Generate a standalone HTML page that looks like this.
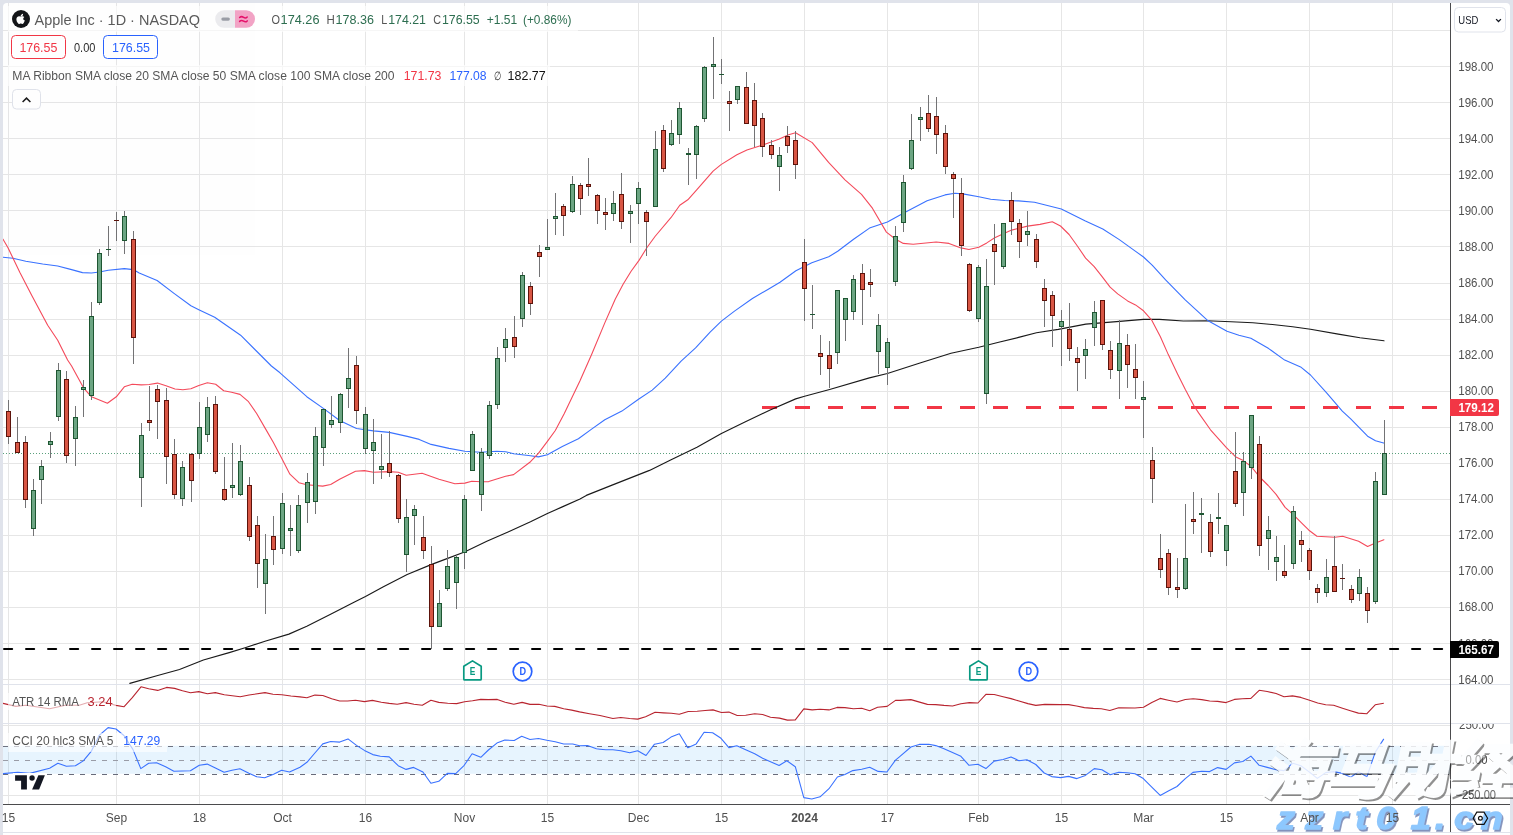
<!DOCTYPE html>
<html><head><meta charset="utf-8"><title>AAPL chart</title>
<style>
html,body{margin:0;padding:0;background:#e0e3eb;}
body{width:1513px;height:835px;overflow:hidden;position:relative;font-family:"Liberation Sans",sans-serif;}
svg text{font-family:"Liberation Sans",sans-serif;}
</style></head><body>
<svg width="1513" height="835" viewBox="0 0 1513 835" style="position:absolute;left:0;top:0;will-change:transform;opacity:0.9999">
<defs><clipPath id="cm"><rect x="3" y="3" width="1447" height="681"/></clipPath><clipPath id="ca"><rect x="3" y="685" width="1447" height="38"/></clipPath><clipPath id="cc"><rect x="3" y="724" width="1447" height="80"/></clipPath><clipPath id="cax"><rect x="1451" y="3" width="59" height="681"/></clipPath><clipPath id="cax2"><rect x="1451" y="724" width="59" height="80"/></clipPath><filter id="sh" x="-10%" y="-10%" width="130%" height="140%"><feGaussianBlur stdDeviation="0.7"/></filter></defs>
<rect x="0" y="0" width="1513" height="835" fill="#e0e3eb"/>
<path d="M3 835V7a4 4 0 0 1 4-4H1506a4 4 0 0 1 4 4V835Z" fill="#fff"/>
<rect x="3" y="832" width="1507" height="1" fill="#e0e3eb"/>
<g fill="#e6e6e6" shape-rendering="crispEdges"><rect x="8" y="3" width="1" height="801"/><rect x="116" y="3" width="1" height="801"/><rect x="199" y="3" width="1" height="801"/><rect x="282" y="3" width="1" height="801"/><rect x="365" y="3" width="1" height="801"/><rect x="464" y="3" width="1" height="801"/><rect x="547" y="3" width="1" height="801"/><rect x="638" y="3" width="1" height="801"/><rect x="721" y="3" width="1" height="801"/><rect x="804" y="3" width="1" height="801"/><rect x="887" y="3" width="1" height="801"/><rect x="978" y="3" width="1" height="801"/><rect x="1061" y="3" width="1" height="801"/><rect x="1143" y="3" width="1" height="801"/><rect x="1226" y="3" width="1" height="801"/><rect x="1309" y="3" width="1" height="801"/><rect x="1392" y="3" width="1" height="801"/><rect x="3" y="30" width="1447" height="1"/><rect x="3" y="66" width="1447" height="1"/><rect x="3" y="102" width="1447" height="1"/><rect x="3" y="138" width="1447" height="1"/><rect x="3" y="174" width="1447" height="1"/><rect x="3" y="210" width="1447" height="1"/><rect x="3" y="246" width="1447" height="1"/><rect x="3" y="283" width="1447" height="1"/><rect x="3" y="319" width="1447" height="1"/><rect x="3" y="355" width="1447" height="1"/><rect x="3" y="391" width="1447" height="1"/><rect x="3" y="427" width="1447" height="1"/><rect x="3" y="463" width="1447" height="1"/><rect x="3" y="499" width="1447" height="1"/><rect x="3" y="535" width="1447" height="1"/><rect x="3" y="571" width="1447" height="1"/><rect x="3" y="607" width="1447" height="1"/><rect x="3" y="643" width="1447" height="1"/><rect x="3" y="679" width="1447" height="1"/><rect x="3" y="725" width="1447" height="1"/><rect x="3" y="795" width="1447" height="1"/></g>
<rect x="3" y="745.8" width="1447" height="28" fill="#2196f3" fill-opacity="0.105"/>
<g stroke-width="1" fill="none" stroke-dasharray="5 6"><path d="M3 746.5H1450" stroke="#6f7280"/><path d="M3 760.5H1450" stroke="#9a9ca6"/><path d="M3 774.5H1450" stroke="#686b7a"/></g>
<path d="M3 453.5H1450" stroke="#5aa07c" stroke-width="1" stroke-dasharray="1 2" fill="none" shape-rendering="crispEdges"/>
<g clip-path="url(#cm)" fill="none"><path d="M762 407.5H1450" stroke="#f23645" stroke-width="3" stroke-dasharray="15 18"/><path d="M4.1 649H1450" stroke="#000" stroke-width="2.2" stroke-dasharray="8 14" stroke-linecap="round"/></g>
<g clip-path="url(#cm)" fill="none" stroke-linejoin="round" stroke-linecap="round">
<path d="M129.8 683.4 L157.7 675.5 L179.5 669.5 L203.4 660.0 L229.2 652.6 L245.1 647.7 L265.0 641.3 L288.9 634.1 L306.8 626.2 L330.6 614.3 L354.5 601.9 L365.5 596.4 L383.4 586.8 L407.2 574.5 L431.1 564.6 L447.0 558.6 L464.5 552.0 L486.8 541.3 L508.6 531.7 L530.5 521.8 L547.4 513.5 L562.3 506.9 L580.0 498.9 L586.3 495.4 L612.7 484.9 L649.5 470.4 L670.6 459.9 L697.0 447.2 L721.4 433.5 L744.4 422.2 L770.7 409.8 L795.7 398.9 L804.6 396.2 L829.6 389.5 L869.4 377.9 L887.4 373.5 L919.2 363.2 L951.0 353.3 L978.8 347.3 L998.7 342.3 L1018.6 337.4 L1036.5 332.8 L1058.3 329.4 L1085.8 324.1 L1119.6 321.4 L1143.5 319.4 L1159.4 319.4 L1183.3 321.0 L1207.1 320.8 L1231.0 321.7 L1252.8 322.7 L1274.7 324.7 L1292.6 326.7 L1310.5 329.3 L1338.3 334.1 L1360.0 337.7 L1384.0 340.8" stroke="#1a1a1a" stroke-width="1.15"/>
<path d="M3.0 257.3 L12.9 258.3 L25.8 261.2 L42.7 264.0 L57.7 266.0 L71.6 269.6 L82.5 272.6 L91.5 273.0 L99.4 272.0 L108.3 270.2 L124.3 268.6 L133.2 269.6 L139.2 273.0 L157.1 280.5 L174.0 293.4 L190.9 305.8 L198.8 309.7 L214.7 317.3 L240.6 335.2 L271.4 366.0 L280.0 372.8 L306.8 396.7 L323.7 408.6 L339.6 420.5 L356.5 428.5 L373.4 430.9 L389.3 432.4 L407.2 436.4 L419.2 439.4 L431.1 444.4 L449.0 448.4 L464.9 451.3 L480.8 452.3 L496.7 451.3 L505.6 451.7 L513.6 453.7 L530.5 455.7 L538.4 456.9 L547.4 454.7 L562.3 446.4 L578.4 438.8 L591.6 429.1 L604.8 419.8 L621.9 411.1 L638.5 399.3 L652.2 390.1 L665.3 378.2 L681.1 361.1 L695.6 347.9 L710.1 332.1 L721.4 321.1 L734.5 311.1 L752.4 298.5 L768.3 289.2 L780.0 282.2 L795.9 270.8 L811.8 262.8 L828.7 256.8 L837.7 251.3 L853.6 239.3 L869.5 228.1 L887.4 222.1 L903.3 213.2 L927.1 200.7 L945.0 194.9 L954.9 193.3 L962.9 193.9 L978.8 196.7 L990.7 199.3 L1004.7 200.5 L1018.6 200.9 L1034.5 202.3 L1046.4 205.2 L1061.3 209.0 L1084.9 220.8 L1102.8 229.0 L1119.3 239.6 L1132.5 249.1 L1143.5 257.0 L1152.4 265.3 L1165.6 279.9 L1185.2 299.9 L1208.1 320.8 L1227.0 331.3 L1238.9 335.3 L1250.9 338.3 L1268.7 348.6 L1284.7 360.1 L1300.6 366.9 L1310.5 375.0 L1326.4 392.7 L1342.3 411.2 L1350.7 418.9 L1367.6 436.2 L1375.5 440.8 L1384.5 443.3" stroke="#3a72ff" stroke-width="1.1"/>
<path d="M3.0 239.2 L8.0 247.7 L19.9 272.6 L31.8 295.4 L47.7 325.2 L57.7 340.2 L67.6 360.0 L71.6 366.0 L83.5 387.8 L91.5 396.8 L107.4 403.3 L116.3 396.8 L124.3 386.8 L132.2 384.3 L141.2 384.9 L149.1 384.5 L157.5 383.1 L166.0 385.8 L175.0 389.0 L182.9 389.8 L190.9 388.8 L198.8 385.4 L207.4 382.7 L215.7 384.3 L223.7 390.8 L231.6 392.2 L240.0 394.4 L248.5 401.7 L256.5 413.3 L265.4 428.6 L273.4 442.5 L281.3 457.4 L289.9 474.2 L298.9 482.7 L306.8 484.7 L322.7 486.1 L330.7 484.5 L339.6 479.2 L355.5 471.2 L364.5 470.6 L373.4 472.2 L389.3 471.6 L398.3 472.2 L406.2 475.2 L422.1 473.2 L439.0 479.2 L454.9 483.7 L464.9 483.1 L471.8 481.2 L480.8 481.7 L488.7 481.6 L505.6 476.2 L513.6 474.6 L530.5 461.7 L538.4 453.3 L547.4 441.4 L555.3 430.5 L564.3 413.6 L580.0 380.8 L591.6 354.5 L604.8 322.9 L615.2 299.2 L623.1 284.3 L631.1 271.3 L639.0 260.4 L647.0 247.5 L655.0 236.5 L670.9 217.7 L679.8 205.3 L687.8 199.8 L696.7 189.8 L713.1 171.2 L721.0 164.6 L736.9 154.7 L746.9 149.9 L762.8 144.9 L778.7 139.3 L788.6 134.8 L795.6 132.8 L812.2 142.6 L828.6 162.4 L845.0 179.8 L861.5 194.3 L872.4 208.2 L886.4 232.1 L895.3 239.0 L903.3 243.4 L913.2 244.2 L936.1 242.0 L949.0 243.4 L960.9 247.9 L968.9 249.5 L978.8 247.3 L986.8 242.9 L994.7 237.8 L1011.6 230.1 L1027.5 226.1 L1040.0 224.4 L1052.3 221.7 L1060.5 226.0 L1069.1 234.5 L1077.0 245.5 L1085.6 258.1 L1094.2 266.7 L1102.1 276.6 L1110.1 287.2 L1117.7 293.9 L1127.6 300.9 L1135.5 304.9 L1143.5 310.8 L1151.5 319.8 L1160.4 336.7 L1168.3 354.6 L1177.3 373.4 L1185.2 389.3 L1194.2 406.2 L1198.6 412.9 L1210.5 429.8 L1226.4 447.7 L1235.4 456.7 L1243.3 460.6 L1251.3 466.6 L1259.2 476.5 L1268.2 485.5 L1276.1 494.4 L1285.1 507.4 L1293.0 514.3 L1301.0 522.3 L1308.9 530.2 L1316.9 536.2 L1334.8 537.2 L1342.7 536.2 L1358.6 541.2 L1367.6 546.5 L1375.5 543.1 L1383.9 539.8" stroke="#f44a5b" stroke-width="1.1"/>
</g>
<g clip-path="url(#ca)" fill="none" stroke-linejoin="round"><path d="M3.0 703.4 L15.9 706.4 L25.8 705.2 L49.6 708.8 L65.4 705.2 L79.3 705.2 L87.2 702.8 L103.1 701.8 L116.0 705.4 L123.9 706.8 L132.3 697.6 L141.0 686.8 L148.7 688.8 L157.7 690.4 L166.6 687.4 L174.6 688.4 L182.5 690.8 L190.5 692.8 L198.8 691.6 L207.4 693.8 L215.3 692.6 L224.3 694.8 L240.2 696.8 L249.1 695.0 L265.0 692.6 L273.0 694.2 L281.9 694.8 L290.9 696.0 L300.0 696.9 L306.9 697.8 L314.9 695.1 L322.8 695.5 L331.7 698.8 L339.7 701.0 L347.6 701.0 L355.5 700.2 L364.4 701.6 L372.4 700.4 L381.3 702.2 L389.2 703.4 L397.2 704.2 L406.1 702.6 L414.0 704.2 L422.3 705.2 L430.9 700.2 L438.8 702.4 L447.7 703.2 L456.7 703.6 L464.6 701.8 L472.5 700.8 L480.8 699.4 L488.4 699.6 L497.3 699.4 L505.2 702.2 L513.8 704.2 L522.1 702.4 L530.0 704.4 L538.9 704.2 L546.9 706.0 L554.8 706.4 L563.7 708.8 L571.7 710.1 L579.6 711.9 L589.5 713.7 L600.0 715.5 L612.9 718.5 L620.8 717.5 L629.7 718.5 L637.7 719.1 L645.6 716.7 L655.1 712.3 L663.5 712.9 L671.4 713.3 L679.3 714.3 L688.2 711.5 L697.2 711.3 L705.1 710.5 L713.0 709.9 L721.4 712.5 L728.9 712.1 L737.2 715.5 L745.7 715.3 L754.7 713.7 L762.6 714.5 L770.5 717.3 L779.5 718.1 L787.4 720.1 L795.3 719.9 L803.8 708.9 L812.2 709.9 L820.1 709.3 L829.0 709.9 L837.0 707.4 L844.9 707.6 L853.4 708.8 L861.7 708.2 L869.7 710.7 L877.6 707.2 L887.1 706.4 L895.5 700.4 L900.0 700.4 L910.9 699.6 L927.4 704.4 L935.7 704.6 L944.0 705.4 L952.5 706.0 L960.9 703.8 L969.4 702.6 L977.9 703.0 L985.9 694.3 L994.2 694.5 L1003.1 696.7 L1011.0 698.6 L1019.0 701.0 L1027.9 703.6 L1035.8 705.4 L1044.8 704.4 L1060.6 704.6 L1068.6 704.6 L1076.5 706.0 L1084.4 707.6 L1093.3 708.4 L1101.3 708.8 L1109.8 710.5 L1118.7 707.8 L1135.0 708.0 L1143.5 707.2 L1151.8 702.4 L1160.2 698.4 L1168.3 700.2 L1177.0 702.0 L1185.3 699.5 L1193.2 698.8 L1201.7 699.6 L1209.7 701.0 L1217.6 701.4 L1226.1 702.6 L1234.4 699.4 L1242.4 698.8 L1250.9 698.4 L1259.2 690.3 L1267.2 691.5 L1276.1 693.5 L1284.0 696.7 L1292.5 695.9 L1300.9 697.4 L1308.8 700.0 L1317.7 703.0 L1325.7 704.8 L1333.6 705.2 L1342.5 708.2 L1350.4 710.7 L1358.4 713.1 L1366.9 713.7 L1375.2 704.8 L1383.8 703.2" stroke="#b8242f" stroke-width="1.1"/></g>
<g clip-path="url(#cc)" fill="none" stroke-linejoin="round"><path d="M3.0 773.6 L17.8 772.2 L29.7 773.4 L49.6 768.2 L57.9 763.3 L66.4 766.3 L75.4 765.7 L83.3 760.9 L91.2 751.4 L99.1 735.5 L108.1 727.6 L116.0 729.0 L123.9 735.5 L132.9 749.4 L140.8 768.6 L148.7 763.3 L156.6 762.7 L165.6 766.7 L173.9 771.2 L190.4 770.8 L199.3 765.3 L207.2 764.1 L224.1 772.2 L232.0 770.2 L239.9 768.8 L248.9 773.2 L256.8 776.8 L264.7 777.8 L273.6 774.2 L281.6 770.2 L289.5 772.0 L300.0 767.2 L306.9 762.3 L314.9 753.0 L322.8 743.9 L330.7 741.5 L339.7 742.1 L348.0 738.9 L356.5 745.4 L364.4 750.4 L372.8 754.6 L380.3 756.3 L389.2 756.9 L398.2 765.7 L406.1 769.4 L413.6 767.4 L422.9 772.0 L430.9 783.3 L438.8 781.3 L447.3 773.4 L455.7 773.6 L464.2 765.3 L472.1 753.8 L480.8 757.3 L488.4 750.0 L496.9 743.1 L504.8 740.1 L514.2 740.5 L521.7 736.3 L530.0 739.5 L538.5 738.5 L546.9 740.3 L555.2 741.7 L563.7 744.0 L572.7 744.0 L579.6 745.8 L587.5 745.6 L596.4 748.8 L600.0 749.2 L605.9 749.8 L612.9 749.8 L620.8 750.8 L629.7 752.8 L637.7 750.8 L646.0 755.5 L654.5 744.2 L663.1 742.5 L671.0 737.1 L679.3 733.7 L687.8 747.8 L696.2 743.9 L704.1 732.2 L712.6 732.7 L721.0 738.3 L728.9 747.6 L736.8 745.8 L745.7 749.8 L754.7 753.8 L762.6 758.3 L770.5 761.7 L779.1 765.5 L786.8 760.7 L795.3 766.7 L803.8 797.6 L811.8 799.0 L820.1 796.8 L829.0 788.7 L837.4 777.0 L844.9 774.4 L852.8 770.6 L861.7 769.2 L869.7 767.2 L878.2 771.4 L886.9 772.0 L895.5 760.1 L900.0 756.3 L910.9 747.0 L919.2 744.4 L928.8 744.2 L935.7 745.6 L944.0 748.8 L952.5 752.6 L960.9 756.3 L969.0 765.3 L977.9 764.3 L985.9 768.6 L994.2 761.1 L1003.1 759.5 L1011.0 756.9 L1019.0 760.7 L1026.9 759.7 L1035.8 764.5 L1044.2 773.0 L1051.7 776.6 L1060.6 777.6 L1068.6 776.4 L1076.9 778.6 L1085.4 775.4 L1094.3 768.6 L1101.9 769.8 L1110.2 774.8 L1118.7 772.2 L1127.0 772.8 L1135.0 773.8 L1143.3 778.6 L1151.8 787.1 L1160.2 795.4 L1168.3 791.0 L1177.0 786.5 L1185.3 778.6 L1193.0 772.4 L1201.7 771.2 L1209.7 771.6 L1217.6 767.6 L1226.1 769.4 L1234.4 762.9 L1242.8 761.5 L1250.9 756.1 L1259.2 765.3 L1267.2 767.4 L1276.1 769.8 L1284.0 770.6 L1292.9 763.3 L1300.9 765.7 L1308.8 771.6 L1317.3 778.4 L1325.7 772.6 L1333.6 771.6 L1342.5 773.4 L1350.8 777.2 L1358.4 771.8 L1366.9 776.8 L1375.2 752.4 L1383.8 738.9" stroke="#3a72ff" stroke-width="1.1"/></g>
<g clip-path="url(#cm)" shape-rendering="crispEdges"><rect x="8" y="400" width="1" height="44" fill="#737375"/><rect x="6" y="411" width="5" height="26" fill="#5c130b"/><rect x="7" y="412" width="3" height="24" fill="#d85644"/><rect x="17" y="417" width="1" height="36" fill="#737375"/><rect x="15" y="442" width="5" height="11" fill="#5c130b"/><rect x="16" y="443" width="3" height="9" fill="#d85644"/><rect x="25" y="436" width="1" height="72" fill="#737375"/><rect x="23" y="442" width="5" height="58" fill="#5c130b"/><rect x="24" y="443" width="3" height="56" fill="#d85644"/><rect x="33" y="479" width="1" height="57" fill="#737375"/><rect x="31" y="490" width="5" height="39" fill="#1e5632"/><rect x="32" y="491" width="3" height="37" fill="#6ca583"/><rect x="41" y="460" width="1" height="44" fill="#737375"/><rect x="39" y="466" width="5" height="14" fill="#1e5632"/><rect x="40" y="467" width="3" height="12" fill="#6ca583"/><rect x="50" y="432" width="1" height="26" fill="#737375"/><rect x="48" y="441" width="5" height="4" fill="#1e5632"/><rect x="49" y="442" width="3" height="2" fill="#6ca583"/><rect x="58" y="363" width="1" height="58" fill="#737375"/><rect x="56" y="370" width="5" height="47" fill="#1e5632"/><rect x="57" y="371" width="3" height="45" fill="#6ca583"/><rect x="66" y="371" width="1" height="92" fill="#737375"/><rect x="64" y="379" width="5" height="77" fill="#5c130b"/><rect x="65" y="380" width="3" height="75" fill="#d85644"/><rect x="75" y="406" width="1" height="60" fill="#737375"/><rect x="73" y="417" width="5" height="22" fill="#1e5632"/><rect x="74" y="418" width="3" height="20" fill="#6ca583"/><rect x="83" y="380" width="1" height="37" fill="#737375"/><rect x="81" y="387" width="5" height="3" fill="#1e5632"/><rect x="82" y="388" width="3" height="1" fill="#6ca583"/><rect x="91" y="302" width="1" height="98" fill="#737375"/><rect x="89" y="316" width="5" height="80" fill="#1e5632"/><rect x="90" y="317" width="3" height="78" fill="#6ca583"/><rect x="99" y="249" width="1" height="56" fill="#737375"/><rect x="97" y="253" width="5" height="50" fill="#1e5632"/><rect x="98" y="254" width="3" height="48" fill="#6ca583"/><rect x="108" y="226" width="1" height="30" fill="#737375"/><rect x="106" y="249" width="5" height="1" fill="#1e5632"/><rect x="116" y="212" width="1" height="29" fill="#737375"/><rect x="114" y="220" width="5" height="1" fill="#5c130b"/><rect x="124" y="211" width="1" height="43" fill="#737375"/><rect x="122" y="216" width="5" height="25" fill="#1e5632"/><rect x="123" y="217" width="3" height="23" fill="#6ca583"/><rect x="133" y="231" width="1" height="133" fill="#737375"/><rect x="131" y="239" width="5" height="99" fill="#5c130b"/><rect x="132" y="240" width="3" height="97" fill="#d85644"/><rect x="141" y="423" width="1" height="84" fill="#737375"/><rect x="139" y="435" width="5" height="43" fill="#1e5632"/><rect x="140" y="436" width="3" height="41" fill="#6ca583"/><rect x="149" y="386" width="1" height="45" fill="#737375"/><rect x="147" y="420" width="5" height="3" fill="#5c130b"/><rect x="148" y="421" width="3" height="1" fill="#d85644"/><rect x="157" y="385" width="1" height="54" fill="#737375"/><rect x="155" y="389" width="5" height="13" fill="#5c130b"/><rect x="156" y="390" width="3" height="11" fill="#d85644"/><rect x="166" y="388" width="1" height="96" fill="#737375"/><rect x="164" y="400" width="5" height="57" fill="#5c130b"/><rect x="165" y="401" width="3" height="55" fill="#d85644"/><rect x="174" y="439" width="1" height="60" fill="#737375"/><rect x="172" y="454" width="5" height="41" fill="#5c130b"/><rect x="173" y="455" width="3" height="39" fill="#d85644"/><rect x="182" y="461" width="1" height="45" fill="#737375"/><rect x="180" y="467" width="5" height="32" fill="#1e5632"/><rect x="181" y="468" width="3" height="30" fill="#6ca583"/><rect x="191" y="453" width="1" height="49" fill="#737375"/><rect x="189" y="454" width="5" height="27" fill="#5c130b"/><rect x="190" y="455" width="3" height="25" fill="#d85644"/><rect x="199" y="402" width="1" height="57" fill="#737375"/><rect x="197" y="427" width="5" height="27" fill="#1e5632"/><rect x="198" y="428" width="3" height="25" fill="#6ca583"/><rect x="207" y="397" width="1" height="45" fill="#737375"/><rect x="205" y="407" width="5" height="28" fill="#1e5632"/><rect x="206" y="408" width="3" height="26" fill="#6ca583"/><rect x="215" y="396" width="1" height="78" fill="#737375"/><rect x="213" y="404" width="5" height="68" fill="#5c130b"/><rect x="214" y="405" width="3" height="66" fill="#d85644"/><rect x="224" y="457" width="1" height="44" fill="#737375"/><rect x="222" y="489" width="5" height="11" fill="#5c130b"/><rect x="223" y="490" width="3" height="9" fill="#d85644"/><rect x="232" y="443" width="1" height="55" fill="#737375"/><rect x="230" y="485" width="5" height="3" fill="#1e5632"/><rect x="231" y="486" width="3" height="1" fill="#6ca583"/><rect x="240" y="445" width="1" height="51" fill="#737375"/><rect x="238" y="461" width="5" height="34" fill="#1e5632"/><rect x="239" y="462" width="3" height="32" fill="#6ca583"/><rect x="249" y="477" width="1" height="64" fill="#737375"/><rect x="247" y="485" width="5" height="52" fill="#5c130b"/><rect x="248" y="486" width="3" height="50" fill="#d85644"/><rect x="257" y="516" width="1" height="72" fill="#737375"/><rect x="255" y="525" width="5" height="39" fill="#5c130b"/><rect x="256" y="526" width="3" height="37" fill="#d85644"/><rect x="265" y="534" width="1" height="80" fill="#737375"/><rect x="263" y="559" width="5" height="25" fill="#1e5632"/><rect x="264" y="560" width="3" height="23" fill="#6ca583"/><rect x="273" y="516" width="1" height="49" fill="#737375"/><rect x="271" y="536" width="5" height="14" fill="#5c130b"/><rect x="272" y="537" width="3" height="12" fill="#d85644"/><rect x="282" y="493" width="1" height="61" fill="#737375"/><rect x="280" y="503" width="5" height="46" fill="#1e5632"/><rect x="281" y="504" width="3" height="44" fill="#6ca583"/><rect x="290" y="505" width="1" height="51" fill="#737375"/><rect x="288" y="528" width="5" height="3" fill="#1e5632"/><rect x="289" y="529" width="3" height="1" fill="#6ca583"/><rect x="298" y="495" width="1" height="58" fill="#737375"/><rect x="296" y="505" width="5" height="46" fill="#1e5632"/><rect x="297" y="506" width="3" height="44" fill="#6ca583"/><rect x="307" y="473" width="1" height="50" fill="#737375"/><rect x="305" y="482" width="5" height="21" fill="#1e5632"/><rect x="306" y="483" width="3" height="19" fill="#6ca583"/><rect x="315" y="427" width="1" height="87" fill="#737375"/><rect x="313" y="436" width="5" height="66" fill="#1e5632"/><rect x="314" y="437" width="3" height="64" fill="#6ca583"/><rect x="323" y="409" width="1" height="57" fill="#737375"/><rect x="321" y="409" width="5" height="39" fill="#1e5632"/><rect x="322" y="410" width="3" height="37" fill="#6ca583"/><rect x="331" y="396" width="1" height="32" fill="#737375"/><rect x="329" y="420" width="5" height="5" fill="#1e5632"/><rect x="330" y="421" width="3" height="3" fill="#6ca583"/><rect x="340" y="393" width="1" height="40" fill="#737375"/><rect x="338" y="394" width="5" height="29" fill="#1e5632"/><rect x="339" y="395" width="3" height="27" fill="#6ca583"/><rect x="348" y="348" width="1" height="60" fill="#737375"/><rect x="346" y="378" width="5" height="11" fill="#1e5632"/><rect x="347" y="379" width="3" height="9" fill="#6ca583"/><rect x="356" y="356" width="1" height="68" fill="#737375"/><rect x="354" y="365" width="5" height="46" fill="#5c130b"/><rect x="355" y="366" width="3" height="44" fill="#d85644"/><rect x="365" y="407" width="1" height="47" fill="#737375"/><rect x="363" y="414" width="5" height="35" fill="#1e5632"/><rect x="364" y="415" width="3" height="33" fill="#6ca583"/><rect x="373" y="419" width="1" height="65" fill="#737375"/><rect x="371" y="442" width="5" height="9" fill="#1e5632"/><rect x="372" y="443" width="3" height="7" fill="#6ca583"/><rect x="381" y="434" width="1" height="45" fill="#737375"/><rect x="379" y="466" width="5" height="4" fill="#1e5632"/><rect x="380" y="467" width="3" height="2" fill="#6ca583"/><rect x="389" y="431" width="1" height="46" fill="#737375"/><rect x="387" y="463" width="5" height="10" fill="#5c130b"/><rect x="388" y="464" width="3" height="8" fill="#d85644"/><rect x="398" y="474" width="1" height="49" fill="#737375"/><rect x="396" y="475" width="5" height="44" fill="#5c130b"/><rect x="397" y="476" width="3" height="42" fill="#d85644"/><rect x="406" y="499" width="1" height="73" fill="#737375"/><rect x="404" y="517" width="5" height="38" fill="#1e5632"/><rect x="405" y="518" width="3" height="36" fill="#6ca583"/><rect x="414" y="505" width="1" height="40" fill="#737375"/><rect x="412" y="509" width="5" height="7" fill="#1e5632"/><rect x="413" y="510" width="3" height="5" fill="#6ca583"/><rect x="423" y="516" width="1" height="43" fill="#737375"/><rect x="421" y="537" width="5" height="14" fill="#5c130b"/><rect x="422" y="538" width="3" height="12" fill="#d85644"/><rect x="431" y="546" width="1" height="103" fill="#737375"/><rect x="429" y="564" width="5" height="63" fill="#5c130b"/><rect x="430" y="565" width="3" height="61" fill="#d85644"/><rect x="439" y="590" width="1" height="37" fill="#737375"/><rect x="437" y="603" width="5" height="24" fill="#1e5632"/><rect x="438" y="604" width="3" height="22" fill="#6ca583"/><rect x="447" y="550" width="1" height="41" fill="#737375"/><rect x="445" y="566" width="5" height="23" fill="#1e5632"/><rect x="446" y="567" width="3" height="21" fill="#6ca583"/><rect x="456" y="555" width="1" height="54" fill="#737375"/><rect x="454" y="557" width="5" height="26" fill="#1e5632"/><rect x="455" y="558" width="3" height="24" fill="#6ca583"/><rect x="464" y="495" width="1" height="74" fill="#737375"/><rect x="462" y="499" width="5" height="54" fill="#1e5632"/><rect x="463" y="500" width="3" height="52" fill="#6ca583"/><rect x="472" y="431" width="1" height="40" fill="#737375"/><rect x="470" y="434" width="5" height="37" fill="#1e5632"/><rect x="471" y="435" width="3" height="35" fill="#6ca583"/><rect x="481" y="448" width="1" height="63" fill="#737375"/><rect x="479" y="452" width="5" height="43" fill="#1e5632"/><rect x="480" y="453" width="3" height="41" fill="#6ca583"/><rect x="489" y="401" width="1" height="58" fill="#737375"/><rect x="487" y="405" width="5" height="51" fill="#1e5632"/><rect x="488" y="406" width="3" height="49" fill="#6ca583"/><rect x="497" y="347" width="1" height="62" fill="#737375"/><rect x="495" y="358" width="5" height="47" fill="#1e5632"/><rect x="496" y="359" width="3" height="45" fill="#6ca583"/><rect x="505" y="328" width="1" height="34" fill="#737375"/><rect x="503" y="339" width="5" height="9" fill="#1e5632"/><rect x="504" y="340" width="3" height="7" fill="#6ca583"/><rect x="514" y="316" width="1" height="42" fill="#737375"/><rect x="512" y="337" width="5" height="10" fill="#5c130b"/><rect x="513" y="338" width="3" height="8" fill="#d85644"/><rect x="522" y="272" width="1" height="55" fill="#737375"/><rect x="520" y="275" width="5" height="44" fill="#1e5632"/><rect x="521" y="276" width="3" height="42" fill="#6ca583"/><rect x="530" y="282" width="1" height="33" fill="#737375"/><rect x="528" y="286" width="5" height="18" fill="#5c130b"/><rect x="529" y="287" width="3" height="16" fill="#d85644"/><rect x="539" y="245" width="1" height="32" fill="#737375"/><rect x="537" y="252" width="5" height="5" fill="#5c130b"/><rect x="538" y="253" width="3" height="3" fill="#d85644"/><rect x="547" y="219" width="1" height="31" fill="#737375"/><rect x="545" y="247" width="5" height="3" fill="#1e5632"/><rect x="546" y="248" width="3" height="1" fill="#6ca583"/><rect x="555" y="193" width="1" height="42" fill="#737375"/><rect x="553" y="216" width="5" height="3" fill="#1e5632"/><rect x="554" y="217" width="3" height="1" fill="#6ca583"/><rect x="563" y="204" width="1" height="32" fill="#737375"/><rect x="561" y="206" width="5" height="10" fill="#5c130b"/><rect x="562" y="207" width="3" height="8" fill="#d85644"/><rect x="572" y="176" width="1" height="37" fill="#737375"/><rect x="570" y="184" width="5" height="28" fill="#1e5632"/><rect x="571" y="185" width="3" height="26" fill="#6ca583"/><rect x="580" y="183" width="1" height="32" fill="#737375"/><rect x="578" y="185" width="5" height="14" fill="#5c130b"/><rect x="579" y="186" width="3" height="12" fill="#d85644"/><rect x="588" y="158" width="1" height="38" fill="#737375"/><rect x="586" y="184" width="5" height="3" fill="#5c130b"/><rect x="587" y="185" width="3" height="1" fill="#d85644"/><rect x="597" y="194" width="1" height="30" fill="#737375"/><rect x="595" y="195" width="5" height="16" fill="#5c130b"/><rect x="596" y="196" width="3" height="14" fill="#d85644"/><rect x="605" y="198" width="1" height="32" fill="#737375"/><rect x="603" y="212" width="5" height="3" fill="#5c130b"/><rect x="604" y="213" width="3" height="1" fill="#d85644"/><rect x="613" y="191" width="1" height="30" fill="#737375"/><rect x="611" y="203" width="5" height="11" fill="#1e5632"/><rect x="612" y="204" width="3" height="9" fill="#6ca583"/><rect x="621" y="173" width="1" height="56" fill="#737375"/><rect x="619" y="194" width="5" height="28" fill="#5c130b"/><rect x="620" y="195" width="3" height="26" fill="#d85644"/><rect x="630" y="205" width="1" height="38" fill="#737375"/><rect x="628" y="211" width="5" height="3" fill="#1e5632"/><rect x="629" y="212" width="3" height="1" fill="#6ca583"/><rect x="638" y="182" width="1" height="42" fill="#737375"/><rect x="636" y="188" width="5" height="16" fill="#1e5632"/><rect x="637" y="189" width="3" height="14" fill="#6ca583"/><rect x="646" y="210" width="1" height="46" fill="#737375"/><rect x="644" y="212" width="5" height="10" fill="#5c130b"/><rect x="645" y="213" width="3" height="8" fill="#d85644"/><rect x="655" y="131" width="1" height="76" fill="#737375"/><rect x="653" y="149" width="5" height="58" fill="#1e5632"/><rect x="654" y="150" width="3" height="56" fill="#6ca583"/><rect x="663" y="125" width="1" height="47" fill="#737375"/><rect x="661" y="130" width="5" height="39" fill="#5c130b"/><rect x="662" y="131" width="3" height="37" fill="#d85644"/><rect x="671" y="120" width="1" height="26" fill="#737375"/><rect x="669" y="133" width="5" height="12" fill="#1e5632"/><rect x="670" y="134" width="3" height="10" fill="#6ca583"/><rect x="679" y="102" width="1" height="42" fill="#737375"/><rect x="677" y="108" width="5" height="27" fill="#1e5632"/><rect x="678" y="109" width="3" height="25" fill="#6ca583"/><rect x="688" y="148" width="1" height="37" fill="#737375"/><rect x="686" y="153" width="5" height="2" fill="#1e5632"/><rect x="696" y="125" width="1" height="54" fill="#737375"/><rect x="694" y="126" width="5" height="29" fill="#1e5632"/><rect x="695" y="127" width="3" height="27" fill="#6ca583"/><rect x="704" y="66" width="1" height="56" fill="#737375"/><rect x="702" y="67" width="5" height="52" fill="#1e5632"/><rect x="703" y="68" width="3" height="50" fill="#6ca583"/><rect x="713" y="37" width="1" height="62" fill="#737375"/><rect x="711" y="64" width="5" height="3" fill="#1e5632"/><rect x="712" y="65" width="3" height="1" fill="#6ca583"/><rect x="721" y="59" width="1" height="25" fill="#737375"/><rect x="719" y="74" width="5" height="1" fill="#1e5632"/><rect x="729" y="91" width="1" height="40" fill="#737375"/><rect x="727" y="101" width="5" height="3" fill="#5c130b"/><rect x="728" y="102" width="3" height="1" fill="#d85644"/><rect x="737" y="86" width="1" height="18" fill="#737375"/><rect x="735" y="86" width="5" height="14" fill="#1e5632"/><rect x="736" y="87" width="3" height="12" fill="#6ca583"/><rect x="746" y="72" width="1" height="52" fill="#737375"/><rect x="744" y="87" width="5" height="37" fill="#5c130b"/><rect x="745" y="88" width="3" height="35" fill="#d85644"/><rect x="754" y="83" width="1" height="64" fill="#737375"/><rect x="752" y="100" width="5" height="26" fill="#5c130b"/><rect x="753" y="101" width="3" height="24" fill="#d85644"/><rect x="762" y="113" width="1" height="44" fill="#737375"/><rect x="760" y="118" width="5" height="29" fill="#5c130b"/><rect x="761" y="119" width="3" height="27" fill="#d85644"/><rect x="771" y="140" width="1" height="19" fill="#737375"/><rect x="769" y="145" width="5" height="10" fill="#5c130b"/><rect x="770" y="146" width="3" height="8" fill="#d85644"/><rect x="779" y="147" width="1" height="44" fill="#737375"/><rect x="777" y="155" width="5" height="12" fill="#1e5632"/><rect x="778" y="156" width="3" height="10" fill="#6ca583"/><rect x="787" y="126" width="1" height="27" fill="#737375"/><rect x="785" y="136" width="5" height="10" fill="#5c130b"/><rect x="786" y="137" width="3" height="8" fill="#d85644"/><rect x="795" y="131" width="1" height="48" fill="#737375"/><rect x="793" y="140" width="5" height="25" fill="#5c130b"/><rect x="794" y="141" width="3" height="23" fill="#d85644"/><rect x="804" y="239" width="1" height="82" fill="#737375"/><rect x="802" y="262" width="5" height="27" fill="#5c130b"/><rect x="803" y="263" width="3" height="25" fill="#d85644"/><rect x="812" y="285" width="1" height="44" fill="#737375"/><rect x="810" y="314" width="5" height="1" fill="#1e5632"/><rect x="820" y="335" width="1" height="40" fill="#737375"/><rect x="818" y="353" width="5" height="4" fill="#5c130b"/><rect x="819" y="354" width="3" height="2" fill="#d85644"/><rect x="829" y="341" width="1" height="47" fill="#737375"/><rect x="827" y="355" width="5" height="14" fill="#5c130b"/><rect x="828" y="356" width="3" height="12" fill="#d85644"/><rect x="837" y="290" width="1" height="74" fill="#737375"/><rect x="835" y="290" width="5" height="63" fill="#1e5632"/><rect x="836" y="291" width="3" height="61" fill="#6ca583"/><rect x="845" y="298" width="1" height="43" fill="#737375"/><rect x="843" y="298" width="5" height="22" fill="#1e5632"/><rect x="844" y="299" width="3" height="20" fill="#6ca583"/><rect x="853" y="275" width="1" height="45" fill="#737375"/><rect x="851" y="279" width="5" height="33" fill="#1e5632"/><rect x="852" y="280" width="3" height="31" fill="#6ca583"/><rect x="862" y="264" width="1" height="61" fill="#737375"/><rect x="860" y="273" width="5" height="17" fill="#5c130b"/><rect x="861" y="274" width="3" height="15" fill="#d85644"/><rect x="870" y="269" width="1" height="28" fill="#737375"/><rect x="868" y="282" width="5" height="3" fill="#5c130b"/><rect x="869" y="283" width="3" height="1" fill="#d85644"/><rect x="878" y="314" width="1" height="60" fill="#737375"/><rect x="876" y="325" width="5" height="27" fill="#1e5632"/><rect x="877" y="326" width="3" height="25" fill="#6ca583"/><rect x="887" y="338" width="1" height="47" fill="#737375"/><rect x="885" y="342" width="5" height="26" fill="#1e5632"/><rect x="886" y="343" width="3" height="24" fill="#6ca583"/><rect x="895" y="226" width="1" height="60" fill="#737375"/><rect x="893" y="236" width="5" height="46" fill="#1e5632"/><rect x="894" y="237" width="3" height="44" fill="#6ca583"/><rect x="903" y="175" width="1" height="57" fill="#737375"/><rect x="901" y="182" width="5" height="41" fill="#1e5632"/><rect x="902" y="183" width="3" height="39" fill="#6ca583"/><rect x="911" y="114" width="1" height="56" fill="#737375"/><rect x="909" y="140" width="5" height="29" fill="#1e5632"/><rect x="910" y="141" width="3" height="27" fill="#6ca583"/><rect x="920" y="107" width="1" height="34" fill="#737375"/><rect x="918" y="117" width="5" height="3" fill="#1e5632"/><rect x="919" y="118" width="3" height="1" fill="#6ca583"/><rect x="928" y="95" width="1" height="37" fill="#737375"/><rect x="926" y="113" width="5" height="16" fill="#5c130b"/><rect x="927" y="114" width="3" height="14" fill="#d85644"/><rect x="936" y="97" width="1" height="57" fill="#737375"/><rect x="934" y="116" width="5" height="19" fill="#5c130b"/><rect x="935" y="117" width="3" height="17" fill="#d85644"/><rect x="945" y="125" width="1" height="49" fill="#737375"/><rect x="943" y="133" width="5" height="34" fill="#5c130b"/><rect x="944" y="134" width="3" height="32" fill="#d85644"/><rect x="953" y="172" width="1" height="46" fill="#737375"/><rect x="951" y="174" width="5" height="5" fill="#5c130b"/><rect x="952" y="175" width="3" height="3" fill="#d85644"/><rect x="961" y="178" width="1" height="78" fill="#737375"/><rect x="959" y="193" width="5" height="53" fill="#5c130b"/><rect x="960" y="194" width="3" height="51" fill="#d85644"/><rect x="969" y="263" width="1" height="49" fill="#737375"/><rect x="967" y="264" width="5" height="47" fill="#5c130b"/><rect x="968" y="265" width="3" height="45" fill="#d85644"/><rect x="978" y="265" width="1" height="57" fill="#737375"/><rect x="976" y="267" width="5" height="52" fill="#1e5632"/><rect x="977" y="268" width="3" height="50" fill="#6ca583"/><rect x="986" y="259" width="1" height="145" fill="#737375"/><rect x="984" y="286" width="5" height="108" fill="#1e5632"/><rect x="985" y="287" width="3" height="106" fill="#6ca583"/><rect x="994" y="224" width="1" height="61" fill="#737375"/><rect x="992" y="244" width="5" height="8" fill="#5c130b"/><rect x="993" y="245" width="3" height="6" fill="#d85644"/><rect x="1003" y="223" width="1" height="46" fill="#737375"/><rect x="1001" y="223" width="5" height="44" fill="#1e5632"/><rect x="1002" y="224" width="3" height="42" fill="#6ca583"/><rect x="1011" y="192" width="1" height="43" fill="#737375"/><rect x="1009" y="200" width="5" height="22" fill="#5c130b"/><rect x="1010" y="201" width="3" height="20" fill="#d85644"/><rect x="1019" y="219" width="1" height="39" fill="#737375"/><rect x="1017" y="223" width="5" height="19" fill="#5c130b"/><rect x="1018" y="224" width="3" height="17" fill="#d85644"/><rect x="1027" y="211" width="1" height="35" fill="#737375"/><rect x="1025" y="231" width="5" height="4" fill="#1e5632"/><rect x="1026" y="232" width="3" height="2" fill="#6ca583"/><rect x="1036" y="234" width="1" height="34" fill="#737375"/><rect x="1034" y="239" width="5" height="23" fill="#5c130b"/><rect x="1035" y="240" width="3" height="21" fill="#d85644"/><rect x="1044" y="279" width="1" height="48" fill="#737375"/><rect x="1042" y="288" width="5" height="13" fill="#5c130b"/><rect x="1043" y="289" width="3" height="11" fill="#d85644"/><rect x="1052" y="291" width="1" height="56" fill="#737375"/><rect x="1050" y="295" width="5" height="21" fill="#5c130b"/><rect x="1051" y="296" width="3" height="19" fill="#d85644"/><rect x="1061" y="310" width="1" height="56" fill="#737375"/><rect x="1059" y="321" width="5" height="6" fill="#1e5632"/><rect x="1060" y="322" width="3" height="4" fill="#6ca583"/><rect x="1069" y="303" width="1" height="58" fill="#737375"/><rect x="1067" y="329" width="5" height="20" fill="#5c130b"/><rect x="1068" y="330" width="3" height="18" fill="#d85644"/><rect x="1077" y="347" width="1" height="44" fill="#737375"/><rect x="1075" y="358" width="5" height="5" fill="#5c130b"/><rect x="1076" y="359" width="3" height="3" fill="#d85644"/><rect x="1085" y="339" width="1" height="40" fill="#737375"/><rect x="1083" y="349" width="5" height="7" fill="#1e5632"/><rect x="1084" y="350" width="3" height="5" fill="#6ca583"/><rect x="1094" y="301" width="1" height="45" fill="#737375"/><rect x="1092" y="312" width="5" height="16" fill="#1e5632"/><rect x="1093" y="313" width="3" height="14" fill="#6ca583"/><rect x="1102" y="300" width="1" height="50" fill="#737375"/><rect x="1100" y="300" width="5" height="45" fill="#5c130b"/><rect x="1101" y="301" width="3" height="43" fill="#d85644"/><rect x="1110" y="341" width="1" height="38" fill="#737375"/><rect x="1108" y="350" width="5" height="20" fill="#5c130b"/><rect x="1109" y="351" width="3" height="18" fill="#d85644"/><rect x="1119" y="320" width="1" height="79" fill="#737375"/><rect x="1117" y="343" width="5" height="28" fill="#1e5632"/><rect x="1118" y="344" width="3" height="26" fill="#6ca583"/><rect x="1127" y="334" width="1" height="54" fill="#737375"/><rect x="1125" y="345" width="5" height="20" fill="#5c130b"/><rect x="1126" y="346" width="3" height="18" fill="#d85644"/><rect x="1135" y="344" width="1" height="55" fill="#737375"/><rect x="1133" y="369" width="5" height="9" fill="#5c130b"/><rect x="1134" y="370" width="3" height="7" fill="#d85644"/><rect x="1143" y="381" width="1" height="57" fill="#737375"/><rect x="1141" y="397" width="5" height="3" fill="#1e5632"/><rect x="1142" y="398" width="3" height="1" fill="#6ca583"/><rect x="1152" y="447" width="1" height="56" fill="#737375"/><rect x="1150" y="460" width="5" height="19" fill="#5c130b"/><rect x="1151" y="461" width="3" height="17" fill="#d85644"/><rect x="1160" y="534" width="1" height="44" fill="#737375"/><rect x="1158" y="558" width="5" height="12" fill="#5c130b"/><rect x="1159" y="559" width="3" height="10" fill="#d85644"/><rect x="1168" y="549" width="1" height="46" fill="#737375"/><rect x="1166" y="553" width="5" height="35" fill="#5c130b"/><rect x="1167" y="554" width="3" height="33" fill="#d85644"/><rect x="1177" y="558" width="1" height="40" fill="#737375"/><rect x="1175" y="587" width="5" height="3" fill="#5c130b"/><rect x="1176" y="588" width="3" height="1" fill="#d85644"/><rect x="1185" y="504" width="1" height="86" fill="#737375"/><rect x="1183" y="558" width="5" height="31" fill="#1e5632"/><rect x="1184" y="559" width="3" height="29" fill="#6ca583"/><rect x="1193" y="492" width="1" height="42" fill="#737375"/><rect x="1191" y="519" width="5" height="3" fill="#5c130b"/><rect x="1192" y="520" width="3" height="1" fill="#d85644"/><rect x="1201" y="498" width="1" height="55" fill="#737375"/><rect x="1199" y="513" width="5" height="2" fill="#1e5632"/><rect x="1210" y="514" width="1" height="43" fill="#737375"/><rect x="1208" y="522" width="5" height="30" fill="#5c130b"/><rect x="1209" y="523" width="3" height="28" fill="#d85644"/><rect x="1218" y="493" width="1" height="41" fill="#737375"/><rect x="1216" y="517" width="5" height="2" fill="#1e5632"/><rect x="1226" y="525" width="1" height="41" fill="#737375"/><rect x="1224" y="525" width="5" height="26" fill="#1e5632"/><rect x="1225" y="526" width="3" height="24" fill="#6ca583"/><rect x="1235" y="432" width="1" height="75" fill="#737375"/><rect x="1233" y="471" width="5" height="33" fill="#5c130b"/><rect x="1234" y="472" width="3" height="31" fill="#d85644"/><rect x="1243" y="452" width="1" height="64" fill="#737375"/><rect x="1241" y="461" width="5" height="32" fill="#1e5632"/><rect x="1242" y="462" width="3" height="30" fill="#6ca583"/><rect x="1251" y="415" width="1" height="64" fill="#737375"/><rect x="1249" y="415" width="5" height="53" fill="#1e5632"/><rect x="1250" y="416" width="3" height="51" fill="#6ca583"/><rect x="1259" y="436" width="1" height="120" fill="#737375"/><rect x="1257" y="444" width="5" height="102" fill="#5c130b"/><rect x="1258" y="445" width="3" height="100" fill="#d85644"/><rect x="1268" y="516" width="1" height="54" fill="#737375"/><rect x="1266" y="530" width="5" height="9" fill="#1e5632"/><rect x="1267" y="531" width="3" height="7" fill="#6ca583"/><rect x="1276" y="536" width="1" height="45" fill="#737375"/><rect x="1274" y="557" width="5" height="5" fill="#1e5632"/><rect x="1275" y="558" width="3" height="3" fill="#6ca583"/><rect x="1284" y="545" width="1" height="33" fill="#737375"/><rect x="1282" y="571" width="5" height="5" fill="#5c130b"/><rect x="1283" y="572" width="3" height="3" fill="#d85644"/><rect x="1293" y="506" width="1" height="63" fill="#737375"/><rect x="1291" y="511" width="5" height="53" fill="#1e5632"/><rect x="1292" y="512" width="3" height="51" fill="#6ca583"/><rect x="1301" y="531" width="1" height="31" fill="#737375"/><rect x="1299" y="540" width="5" height="5" fill="#5c130b"/><rect x="1300" y="541" width="3" height="3" fill="#d85644"/><rect x="1309" y="548" width="1" height="32" fill="#737375"/><rect x="1307" y="550" width="5" height="21" fill="#5c130b"/><rect x="1308" y="551" width="3" height="19" fill="#d85644"/><rect x="1317" y="584" width="1" height="19" fill="#737375"/><rect x="1315" y="588" width="5" height="5" fill="#5c130b"/><rect x="1316" y="589" width="3" height="3" fill="#d85644"/><rect x="1326" y="559" width="1" height="38" fill="#737375"/><rect x="1324" y="577" width="5" height="16" fill="#1e5632"/><rect x="1325" y="578" width="3" height="14" fill="#6ca583"/><rect x="1334" y="536" width="1" height="56" fill="#737375"/><rect x="1332" y="566" width="5" height="26" fill="#5c130b"/><rect x="1333" y="567" width="3" height="24" fill="#d85644"/><rect x="1342" y="564" width="1" height="26" fill="#737375"/><rect x="1340" y="578" width="5" height="1" fill="#5c130b"/><rect x="1351" y="585" width="1" height="18" fill="#737375"/><rect x="1349" y="589" width="5" height="11" fill="#5c130b"/><rect x="1350" y="590" width="3" height="9" fill="#d85644"/><rect x="1359" y="569" width="1" height="32" fill="#737375"/><rect x="1357" y="577" width="5" height="17" fill="#1e5632"/><rect x="1358" y="578" width="3" height="15" fill="#6ca583"/><rect x="1367" y="587" width="1" height="36" fill="#737375"/><rect x="1365" y="593" width="5" height="18" fill="#5c130b"/><rect x="1366" y="594" width="3" height="16" fill="#d85644"/><rect x="1375" y="472" width="1" height="132" fill="#737375"/><rect x="1373" y="481" width="5" height="121" fill="#1e5632"/><rect x="1374" y="482" width="3" height="119" fill="#6ca583"/><rect x="1384" y="420" width="1" height="75" fill="#737375"/><rect x="1382" y="453" width="5" height="42" fill="#1e5632"/><rect x="1383" y="454" width="3" height="40" fill="#6ca583"/></g>
<rect x="3" y="684" width="1507" height="1" fill="#e0e3eb"/>
<rect x="3" y="723" width="1507" height="1" fill="#e0e3eb"/>
<rect x="1450" y="3" width="1" height="829" fill="#4b4b4d"/>
<rect x="3" y="804" width="1507" height="1" fill="#4b4b4d"/>
<g font-family="Liberation Sans, sans-serif" font-size="12" fill="#505050" clip-path="url(#cax)">
<text x="1458.3" y="70.7" textLength="35.2" lengthAdjust="spacingAndGlyphs">198.00</text>
<text x="1458.3" y="106.8" textLength="35.2" lengthAdjust="spacingAndGlyphs">196.00</text>
<text x="1458.3" y="142.8" textLength="35.2" lengthAdjust="spacingAndGlyphs">194.00</text>
<text x="1458.3" y="178.9" textLength="35.2" lengthAdjust="spacingAndGlyphs">192.00</text>
<text x="1458.3" y="214.9" textLength="35.2" lengthAdjust="spacingAndGlyphs">190.00</text>
<text x="1458.3" y="251.0" textLength="35.2" lengthAdjust="spacingAndGlyphs">188.00</text>
<text x="1458.3" y="287.0" textLength="35.2" lengthAdjust="spacingAndGlyphs">186.00</text>
<text x="1458.3" y="323.1" textLength="35.2" lengthAdjust="spacingAndGlyphs">184.00</text>
<text x="1458.3" y="359.1" textLength="35.2" lengthAdjust="spacingAndGlyphs">182.00</text>
<text x="1458.3" y="395.2" textLength="35.2" lengthAdjust="spacingAndGlyphs">180.00</text>
<text x="1458.3" y="431.2" textLength="35.2" lengthAdjust="spacingAndGlyphs">178.00</text>
<text x="1458.3" y="467.2" textLength="35.2" lengthAdjust="spacingAndGlyphs">176.00</text>
<text x="1458.3" y="503.3" textLength="35.2" lengthAdjust="spacingAndGlyphs">174.00</text>
<text x="1458.3" y="539.3" textLength="35.2" lengthAdjust="spacingAndGlyphs">172.00</text>
<text x="1458.3" y="575.4" textLength="35.2" lengthAdjust="spacingAndGlyphs">170.00</text>
<text x="1458.3" y="611.4" textLength="35.2" lengthAdjust="spacingAndGlyphs">168.00</text>
<text x="1458.3" y="647.5" textLength="35.2" lengthAdjust="spacingAndGlyphs">166.00</text>
<text x="1458.3" y="683.5" textLength="35.2" lengthAdjust="spacingAndGlyphs">164.00</text>
</g>
<g font-family="Liberation Sans, sans-serif" font-size="12" fill="#505050" clip-path="url(#cax2)">
<text x="1459" y="728.8" textLength="35.2" lengthAdjust="spacingAndGlyphs">250.00</text>
<text x="1465.5" y="763.8" textLength="22" lengthAdjust="spacingAndGlyphs">0.00</text>
<text x="1455.5" y="798.9" textLength="40.5" lengthAdjust="spacingAndGlyphs">−250.00</text>
</g>
<path d="M1450 399h47a2 2 0 0 1 2 2v13a2 2 0 0 1-2 2h-47Z" fill="#f23645"/>
<text x="1458.4" y="411.8" font-family="Liberation Sans, sans-serif" font-size="12" font-weight="bold" fill="#fff" textLength="35.5" lengthAdjust="spacingAndGlyphs">179.12</text>
<path d="M1450 641h47a2 2 0 0 1 2 2v13a2 2 0 0 1-2 2h-47Z" fill="#000"/>
<text x="1458.4" y="653.8" font-family="Liberation Sans, sans-serif" font-size="12" font-weight="bold" fill="#fff" textLength="35.5" lengthAdjust="spacingAndGlyphs">165.67</text>
<rect x="1454.5" y="7.5" width="51" height="24.5" rx="4" fill="#fff" stroke="#e0e3eb"/>
<text x="1458.3" y="23.6" font-family="Liberation Sans, sans-serif" font-size="11.5" fill="#131722" textLength="20" lengthAdjust="spacingAndGlyphs">USD</text>
<path d="M1496.1 19.1l2.4 2.4 2.4-2.4" fill="none" stroke="#131722" stroke-width="1.3"/>
<g font-family="Liberation Sans, sans-serif">
<rect x="8" y="6" width="570" height="26" fill="#fff" fill-opacity="0.62"/><rect x="8" y="65" width="542" height="21" fill="#fff" fill-opacity="0.62"/>
<circle cx="21" cy="19" r="9" fill="#131518"/>
<path d="M22.3 15.9c.5-.6.9-1.3.8-2.1c-.7.1-1.5.5-2 1.1c-.4.5-.8 1.3-.7 2c.7.1 1.4-.4 1.9-1ZM24.9 20.6c-.4.9-.6 1.300-1.100 2.100c-.7 1.100-1.400 1.700-2.100 1.100c-.7-.4-1.200-.4-1.900 0c-.8.500-1.500 0-2.200-1c-1.500-2.200-1.600-4.800-.3-5.900c.8-.8 1.900-.9 2.700-.5c.6.300.9.300 1.400.1c.9-.4 2-.5 2.900.4c-1.700 1.100-1.400 3.100.6 3.700Z" fill="#fff"/>
<text x="34.5" y="24.8" font-size="15" fill="#5a5a5a" textLength="165.5" lengthAdjust="spacingAndGlyphs">Apple Inc · 1D · NASDAQ</text>
<path d="M224 10.2h11v17.6h-11a8.8 8.8 0 0 1 0-17.600Z" fill="#ececef"/>
<path d="M235 10.2h11.200a8.800 8.800 0 0 1 0 17.600h-11.200Z" fill="#f3a3c5"/>
<rect x="221.300" y="17.5" width="8.600" height="3.200" rx="1.600" fill="#9a9da6"/>
<path d="M239.600 17.500c1.600-1.500 2.800-1 4.000-.2s2.300 1.100 3.600-.3M239.600 21.400c1.600-1.500 2.800-1 4.000-.2s2.300 1.100 3.600-.3" fill="none" stroke="#e6126a" stroke-width="1.500" stroke-linecap="round"/>
<text x="271.4" y="24" font-size="13" fill="#555" textLength="8.5" lengthAdjust="spacingAndGlyphs">O</text>
<text x="280.6" y="24" font-size="13" fill="#2d6e50" textLength="38.9" lengthAdjust="spacingAndGlyphs">174.26</text>
<text x="326.4" y="24" font-size="13" fill="#555" textLength="8.3" lengthAdjust="spacingAndGlyphs">H</text>
<text x="335.6" y="24" font-size="13" fill="#2d6e50" textLength="38.4" lengthAdjust="spacingAndGlyphs">178.36</text>
<text x="381.2" y="24" font-size="13" fill="#555" textLength="6.0" lengthAdjust="spacingAndGlyphs">L</text>
<text x="388.2" y="24" font-size="13" fill="#2d6e50" textLength="37.8" lengthAdjust="spacingAndGlyphs">174.21</text>
<text x="433.2" y="24" font-size="13" fill="#555" textLength="7.8" lengthAdjust="spacingAndGlyphs">C</text>
<text x="441.9" y="24" font-size="13" fill="#2d6e50" textLength="37.8" lengthAdjust="spacingAndGlyphs">176.55</text>
<text x="486.8" y="24" font-size="13" fill="#2d6e50" textLength="30.4" lengthAdjust="spacingAndGlyphs">+1.51</text>
<text x="523" y="24" font-size="13" fill="#2d6e50" textLength="48.4" lengthAdjust="spacingAndGlyphs">(+0.86%)</text>
<rect x="11.500" y="35.500" width="54" height="23" rx="4" fill="#fff" stroke="#f23645"/>
<text x="19.4" y="52.0" font-size="13" fill="#f23645" textLength="38" lengthAdjust="spacingAndGlyphs">176.55</text>
<text x="74" y="52.0" font-size="13" fill="#2a2a2a" textLength="21.4" lengthAdjust="spacingAndGlyphs">0.00</text>
<rect x="103.500" y="35.500" width="54" height="23" rx="4" fill="#fff" stroke="#2962ff"/>
<text x="112" y="52.0" font-size="13" fill="#2962ff" textLength="38" lengthAdjust="spacingAndGlyphs">176.55</text>
<text x="12.3" y="79.8" font-size="12" fill="#555" textLength="382.3" lengthAdjust="spacingAndGlyphs">MA Ribbon SMA close 20 SMA close 50 SMA close 100 SMA close 200</text>
<text x="403.7" y="79.8" font-size="12" fill="#f23645" textLength="37.7" lengthAdjust="spacingAndGlyphs">171.73</text>
<text x="449.4" y="79.8" font-size="12" fill="#2962ff" textLength="37.2" lengthAdjust="spacingAndGlyphs">177.08</text>
<text x="493.6" y="79.8" font-size="12" fill="#333" textLength="7" lengthAdjust="spacingAndGlyphs">∅</text>
<text x="507.6" y="79.8" font-size="12" fill="#111" textLength="38.1" lengthAdjust="spacingAndGlyphs">182.77</text>
<rect x="12.500" y="89.500" width="28" height="19.500" rx="4" fill="#fff" stroke="#dfe2ea"/>
<path d="M22.600 102l3.900-3.900l3.900 3.900" fill="none" stroke="#1a1a1a" stroke-width="1.500"/>
<rect x="8" y="693" width="108" height="17" fill="#fff" fill-opacity="0.62"/>
<text x="12.3" y="705.8" font-size="12" fill="#555" textLength="66.6" lengthAdjust="spacingAndGlyphs">ATR 14 RMA</text>
<text x="87.6" y="705.8" font-size="12" fill="#b8242f" textLength="25" lengthAdjust="spacingAndGlyphs">3.24</text>
<rect x="8" y="733" width="159" height="19" fill="#fff" fill-opacity="0.62"/>
<text x="12.3" y="745.2" font-size="12" fill="#555" textLength="101.1" lengthAdjust="spacingAndGlyphs">CCI 20 hlc3 SMA 5</text>
<text x="123.3" y="745.2" font-size="12" fill="#2962ff" textLength="36.9" lengthAdjust="spacingAndGlyphs">147.29</text>
<path d="M463.8 666.300l8.700-5.400l8.700 5.400v12.600a1 1 0 0 1-1 1h-15.400a1 1 0 0 1-1-1Z" fill="#fff" stroke="#089981" stroke-width="1.700" stroke-linejoin="round"/>
<text x="472.5" y="675.300" font-size="10.500" fill="#089981" text-anchor="middle" font-weight="bold" textLength="5.600" lengthAdjust="spacingAndGlyphs">E</text>
<path d="M969.8 666.300l8.700-5.400l8.700 5.400v12.600a1 1 0 0 1-1 1h-15.400a1 1 0 0 1-1-1Z" fill="#fff" stroke="#089981" stroke-width="1.700" stroke-linejoin="round"/>
<text x="978.5" y="675.300" font-size="10.500" fill="#089981" text-anchor="middle" font-weight="bold" textLength="5.600" lengthAdjust="spacingAndGlyphs">E</text>
<circle cx="522.5" cy="671.500" r="9.300" fill="#fff" stroke="#2962ff" stroke-width="1.700"/>
<text x="522.7" y="675.300" font-size="10.500" fill="#2962ff" text-anchor="middle" font-weight="bold" textLength="6.600" lengthAdjust="spacingAndGlyphs">D</text>
<circle cx="1028.5" cy="671.500" r="9.300" fill="#fff" stroke="#2962ff" stroke-width="1.700"/>
<text x="1028.7" y="675.300" font-size="10.500" fill="#2962ff" text-anchor="middle" font-weight="bold" textLength="6.600" lengthAdjust="spacingAndGlyphs">D</text>
<rect x="13" y="773" width="34" height="19" fill="#fff"/>
<path d="M15.100 775.300h11.800v14.300h-5.800v-8.800h-6Z" fill="#131722"/><circle cx="32.050" cy="778" r="2.700" fill="#131722"/><path d="M38.400 775.300h6.500l-5.800 14.300h-7Z" fill="#131722"/>
</g>
<g opacity="0.84">
<g fill="none" stroke="#2a2a2a" stroke-opacity="0.6" stroke-width="9.400" stroke-linecap="square" stroke-linejoin="miter" filter="url(#sh)"><g transform="translate(1279.1 744.3) skewX(-11)"><path d="M5 5L13 10 M2 20L10 25 M2 51L12 33 M28 1L20 15 M22 9H58 M23 20H52L48 47Q47 52 39 51 M23 20L18 47H40 M12 33H59 M33 24L36 29 M31 38L34 43"/></g><g transform="translate(1341.1 744.3) skewX(-11)"><path d="M9 6H44L41 25 M17 6L13 26H54L48 49Q46 54 34 52 M3 39H41"/></g><g transform="translate(1402.1 744.3) skewX(-11)"><path d="M6 4V35 M6 4H27V35 M6 19H27 M6 35H27 M13 36L3 51 M20 36L29 50 M31 16H59 M49 2V46Q49 53 39 50 M47 18L30 43"/></g><g transform="translate(1464.1 744.3) skewX(-11)"><path d="M15 2L5 17H16L4 33H19 M2 49L19 42 M27 6H53L31 30 M34 13L58 31 M31 36H55 M43 36V50 M25 50H59"/></g></g>
<g fill="none" stroke="#fdfeff" stroke-opacity="1" stroke-width="9.400" stroke-linecap="square" stroke-linejoin="miter"><g transform="translate(1277.5 742.5) skewX(-11)"><path d="M5 5L13 10 M2 20L10 25 M2 51L12 33 M28 1L20 15 M22 9H58 M23 20H52L48 47Q47 52 39 51 M23 20L18 47H40 M12 33H59 M33 24L36 29 M31 38L34 43"/></g><g transform="translate(1339.5 742.5) skewX(-11)"><path d="M9 6H44L41 25 M17 6L13 26H54L48 49Q46 54 34 52 M3 39H41"/></g><g transform="translate(1400.5 742.5) skewX(-11)"><path d="M6 4V35 M6 4H27V35 M6 19H27 M6 35H27 M13 36L3 51 M20 36L29 50 M31 16H59 M49 2V46Q49 53 39 50 M47 18L30 43"/></g><g transform="translate(1462.5 742.5) skewX(-11)"><path d="M15 2L5 17H16L4 33H19 M2 49L19 42 M27 6H53L31 30 M34 13L58 31 M31 36H55 M43 36V50 M25 50H59"/></g></g>
</g>
<text transform="translate(1.4 1.4) scale(1.12 1)" x="1140.1 1165.4 1190.1 1210.3 1228.9 1259.6 1281.2 1298.4 1322.2" y="829.500" font-family="Liberation Sans, sans-serif" font-size="32" font-weight="bold" font-style="italic" fill="#7d8db8" filter="url(#sh)" fill-opacity="0.85" stroke="#7d8db8" stroke-width="1.500" stroke-opacity="0.85">zzrt01.cn</text>
<text transform="translate(0 0) scale(1.12 1)" x="1140.1 1165.4 1190.1 1210.3 1228.9 1259.6 1281.2 1298.4 1322.2" y="829.500" font-family="Liberation Sans, sans-serif" font-size="32" font-weight="bold" font-style="italic" fill="#8cc8ff" stroke="#8fc7fc" stroke-width="1.500" stroke-linejoin="round">zzrt01.cn</text>
<g font-family="Liberation Sans, sans-serif" font-size="12" fill="#505050" text-anchor="middle">
<text x="8.5" y="822">15</text>
<text x="116.5" y="822">Sep</text>
<text x="199.5" y="822">18</text>
<text x="282.5" y="822">Oct</text>
<text x="365.5" y="822">16</text>
<text x="464.5" y="822">Nov</text>
<text x="547.5" y="822">15</text>
<text x="638.5" y="822">Dec</text>
<text x="721.5" y="822">15</text>
<text x="804.5" y="822" font-weight="bold">2024</text>
<text x="887.5" y="822">17</text>
<text x="978.5" y="822">Feb</text>
<text x="1061.5" y="822">15</text>
<text x="1143.5" y="822">Mar</text>
<text x="1226.5" y="822">15</text>
<text x="1309.5" y="822">Apr</text>
<text x="1392.5" y="822">15</text>
</g>
<g font-family="Liberation Sans, sans-serif" font-size="12" fill="#505050" clip-path="url(#cax2)"><text x="1465.5" y="763.8" textLength="22" lengthAdjust="spacingAndGlyphs" fill-opacity="0.4">0.00</text><text x="1455.5" y="798.9" textLength="40.5" lengthAdjust="spacingAndGlyphs" fill-opacity="0.8">−250.00</text></g>
<path d="M1473.2 818.3l3.6-6.1h7.2l3.6 6.1l-3.6 6.1h-7.2Z" fill="none" stroke="#111" stroke-width="1.2"/><circle cx="1480.4" cy="818.3" r="1.9" fill="none" stroke="#111" stroke-width="1.2"/>
</svg>
</body></html>
